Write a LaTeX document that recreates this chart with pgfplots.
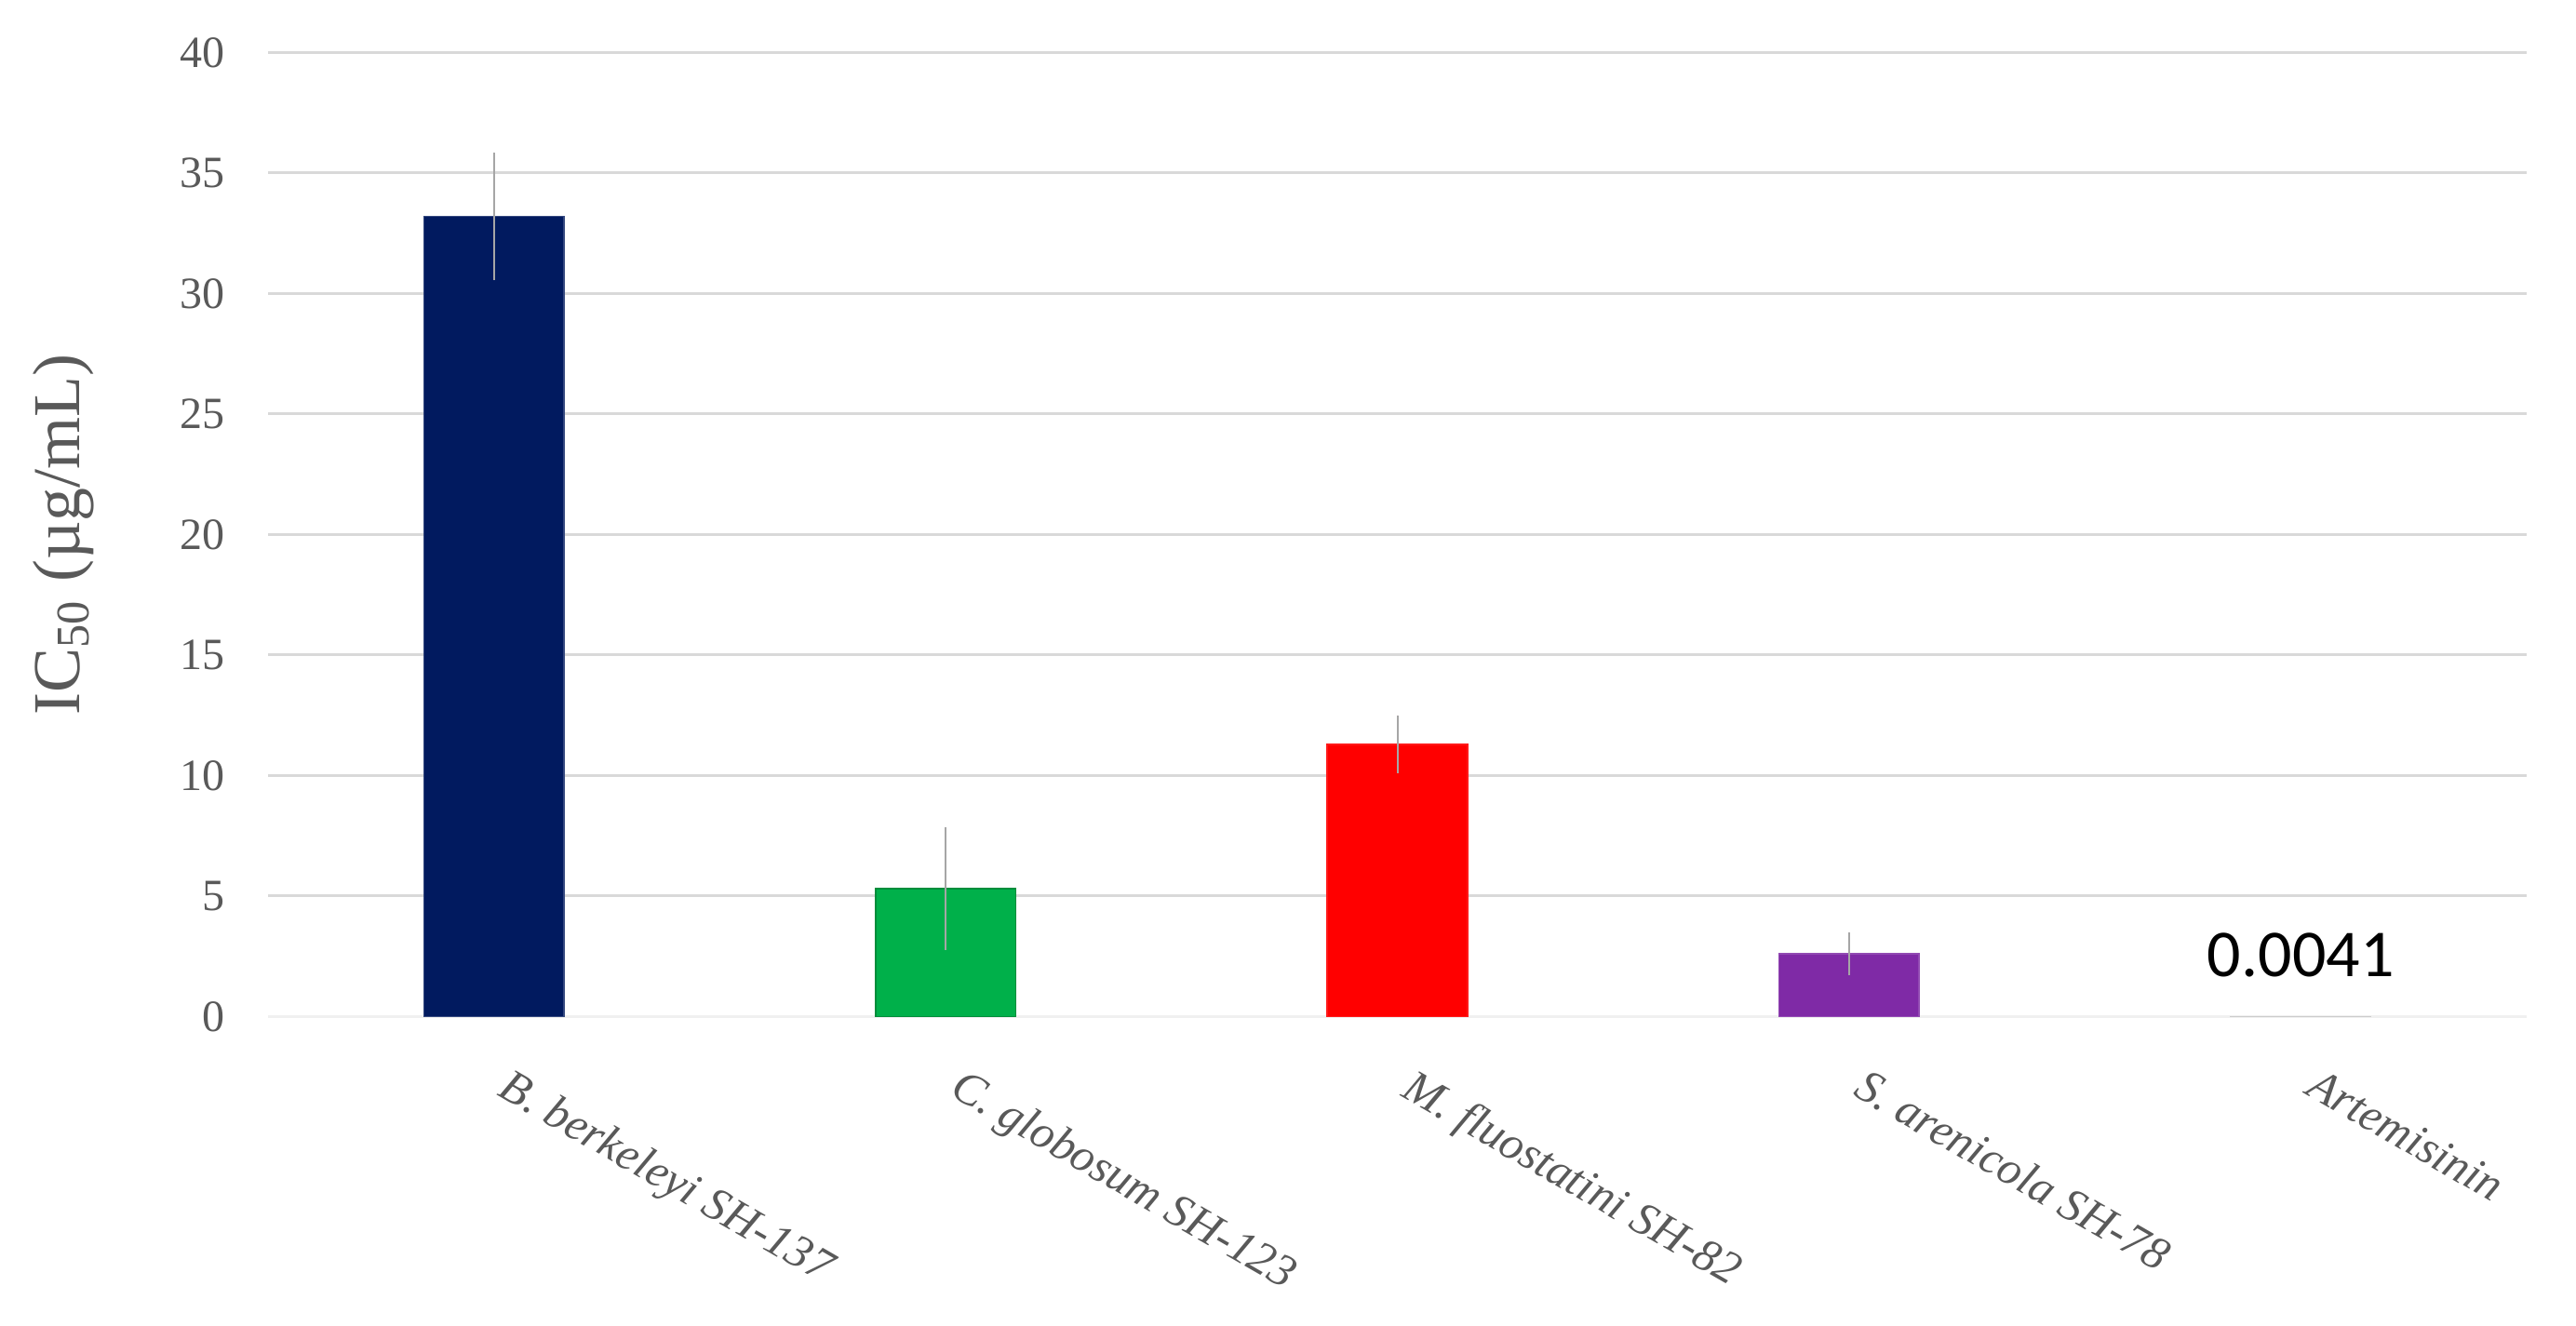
\documentclass[border=0pt]{standalone}
\usepackage{fontspec}
\setmainfont{Liberation Serif}
\newfontfamily\calibri{Carlito}
\usepackage{pgfplots}
\pgfplotsset{compat=1.18}
\definecolor{navyBar}{HTML}{011A5F}
\definecolor{greenBar}{HTML}{00B04A}
\definecolor{redBar}{HTML}{FF0000}
\definecolor{purpleBar}{HTML}{7F2AA6}
\definecolor{tickGray}{HTML}{595959}
\definecolor{gridGray}{HTML}{D9D9D9}
\definecolor{zeroGray}{HTML}{F0F0F0}

\begin{document}
\begin{tikzpicture}
\begin{axis}[
    scale only axis,
    width=606.75pt, height=259pt,
    xmin=-0.5, xmax=4.5,
    ymin=0, ymax=40,
    ybar, bar width=0.31, bar shift=0pt,
    axis line style={draw=none},
    major tick length=0pt,
    xtick={0,1,2,3,4},
    xticklabels={B. berkeleyi SH-137, C. globosum SH-123, M. fluostatini SH-82, S. arenicola SH-78, Artemisinin},
    x tick label style={font=\itshape\fontsize{12.5}{12.5}\selectfont, text=tickGray,
        rotate=-30, anchor=north west, xshift=7.7pt, yshift=-5.7pt},
    ytick={5,10,...,40},
    extra y ticks={0},
    extra y tick style={major grid style={draw=zeroGray, line width=0.75pt}},
    /pgf/number format/assume math mode=true,
    y tick label style={font=\fontsize{12}{12}\selectfont, text=tickGray, xshift=-8pt},
    ymajorgrids,
    grid style={draw=gridGray, line width=0.75pt},
    ylabel={IC\textsubscript{50} (µg/mL)},
    ylabel style={font=\fontsize{18}{18}\selectfont, text=tickGray,
        at={(axis description cs:-0.0906,0.5)}, anchor=center},
    error bars/y dir=both,
    error bars/y explicit,
    error bars/error mark=none,
    error bars/error bar style={draw=black!35, line width=0.5pt},
]

\addplot[fill=navyBar, draw=navyBar!80!white] coordinates {(0,33.2) +- (0,2.65)};
\addplot[fill=greenBar, draw=greenBar!80!black] coordinates {(1,5.3) +- (0,2.55)};
\addplot[fill=redBar, draw=redBar!90!white] coordinates {(2,11.3) +- (0,1.2)};
\addplot[fill=purpleBar, draw=purpleBar!85!white] coordinates {(3,2.6) +- (0,0.9)};
\addplot[fill=gray!40, draw=gray!40] coordinates {(4,0.0041)};

\node[font=\calibri\fontsize{18}{18}\selectfont, text=black] at (axis cs:4,2.55) {0.0041};
\end{axis}
\pgfresetboundingbox
\path (-72pt,-83pt) rectangle (620pt,273.1pt);
\end{tikzpicture}
\end{document}
